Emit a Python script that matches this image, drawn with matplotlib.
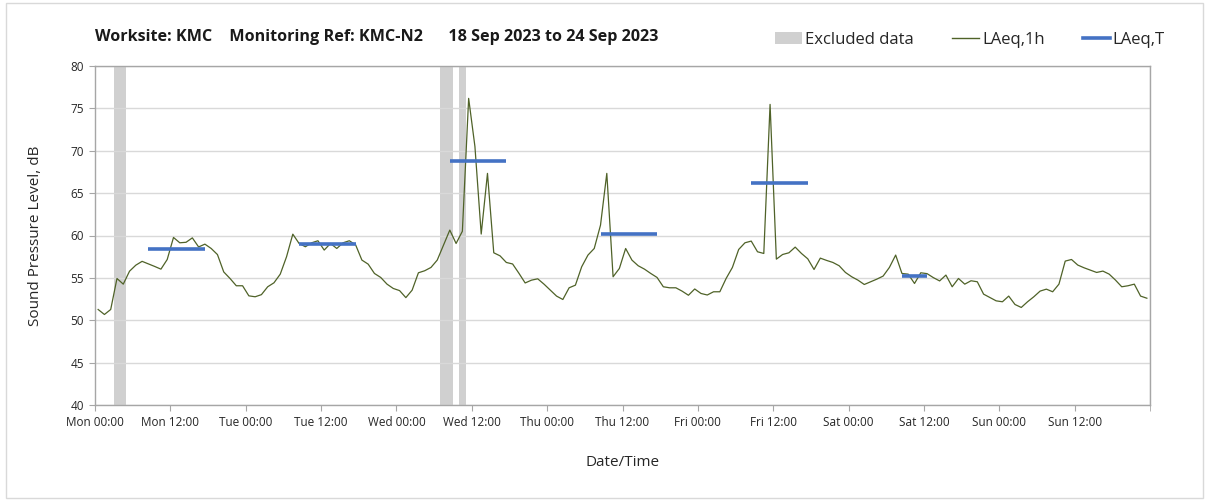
import numpy as np
import matplotlib
matplotlib.use("Agg")
import matplotlib.pyplot as plt
from matplotlib.patches import Patch, Rectangle
from matplotlib.lines import Line2D

plt.rcParams['font.family'] = ['Open Sans', 'DejaVu Sans']

# ---------------- data ----------------
title = "Worksite: KMC    Monitoring Ref: KMC-N2      18 Sep 2023 to 24 Sep 2023"
tick_labels = ["Mon 00:00", "Mon 12:00", "Tue 00:00", "Tue 12:00", "Wed 00:00",
               "Wed 12:00", "Thu 00:00", "Thu 12:00", "Fri 00:00", "Fri 12:00",
               "Sat 00:00", "Sat 12:00", "Sun 00:00", "Sun 12:00"]

# hourly LAeq,1h values (hour 0 = Mon 00:00)
laeq_1h = [
    51.27, 50.68, 51.27, 54.93, 54.26, 55.79, 56.50, 56.95, 56.65, 56.35,
    56.03, 57.17, 59.77, 59.14, 59.20, 59.72, 58.65, 58.98, 58.47, 57.75,
    55.70, 54.93, 54.07, 54.07, 52.88, 52.77, 53.02, 53.95, 54.42, 55.44,
    57.49, 60.16, 59.06, 58.67, 59.14, 59.38, 58.28, 59.06, 58.47, 59.14,
    59.38, 58.90, 57.10, 56.62, 55.52, 55.05, 54.26, 53.75, 53.50, 52.67,
    53.55, 55.60, 55.84, 56.23, 57.10, 58.87, 60.64, 59.06, 60.50, 76.18,
    70.50, 60.17, 67.33, 57.96, 57.60, 56.82, 56.64, 55.55, 54.40, 54.73,
    54.89, 54.26, 53.55, 52.85, 52.45, 53.83, 54.14, 56.31, 57.69, 58.47,
    61.23, 67.33, 55.13, 56.11, 58.47, 57.10, 56.43, 56.03, 55.52, 55.05,
    53.95, 53.83, 53.83, 53.43, 52.95, 53.69, 53.16, 52.98, 53.36, 53.36,
    54.93, 56.23, 58.35, 59.14, 59.34, 58.08, 57.88, 75.47, 57.21, 57.76,
    57.96, 58.63, 57.88, 57.25, 55.99, 57.33, 57.06, 56.82, 56.43, 55.64,
    55.13, 54.73, 54.22, 54.54, 54.85, 55.21, 56.23, 57.69, 55.52, 55.44,
    54.34, 55.60, 55.50, 55.03, 54.64, 55.33, 53.95, 54.93, 54.26, 54.66,
    54.54, 53.08, 52.69, 52.29, 52.18, 52.85, 51.86, 51.51, 52.18, 52.77,
    53.44, 53.67, 53.36, 54.26, 56.98, 57.17, 56.51, 56.19, 55.92, 55.64,
    55.80, 55.44, 54.74, 53.95, 54.07, 54.26, 52.85, 52.60,
]

# LAeq,T daytime periods (start hour, end hour, level)
laeqT_start = [8, 32, 56, 80, 104, 128]
laeqT_end = [17, 41, 65, 89, 113, 132]
laeqT_level = [58.4, 59.0, 68.8, 60.2, 66.2, 55.2]

# excluded data periods (start hour, end hour)
excl_start = [3, 55, 58]
excl_end = [5, 57, 59]

# ---------------- figure ----------------
W, H = 1208, 501
fig = plt.figure(figsize=(W / 100, H / 100), dpi=100)
ax = fig.add_axes([95 / W, 1 - 405 / H, (1150 - 95) / W, (405 - 66) / H])

hours = np.arange(len(laeq_1h)) + 0.5

for s, e in zip(excl_start, excl_end):
    ax.axvspan(s, e, color='#d0d0d0', lw=0, zorder=0.2)

ax.plot(hours, laeq_1h, color='#4F6228', lw=0.9, zorder=3)

for s, e, v in zip(laeqT_start, laeqT_end, laeqT_level):
    ax.plot([s + 0.5, e + 0.5], [v, v], color='#4472C4', lw=2.6,
            solid_capstyle='butt', zorder=4)

ax.set_xlim(0, 168)
ax.set_ylim(40, 80)
ax.set_yticks(np.arange(40, 81, 5))
ax.set_xticks(np.arange(0, 168, 12))
ax.set_xticklabels(tick_labels)
ax.set_xticks(np.arange(0, 169, 24), minor=True)

ax.set_axisbelow(True)
ax.grid(axis='y', which='major', color='#d9d9d9', lw=1.0, zorder=0.5)
ax.grid(axis='x', which='minor', color='#d9d9d9', lw=1.0, zorder=0.5)
ax.grid(axis='x', which='major', visible=False)

for sp in ax.spines.values():
    sp.set_color('#a6a6a6')
    sp.set_linewidth(1.0)

ax.tick_params(axis='both', which='major', direction='out', length=4,
               color='#a6a6a6', labelsize=8.5, labelcolor='#262626', pad=4)
ax.tick_params(axis='x', which='minor', length=4, color='#a6a6a6')

ax.set_ylabel("Sound Pressure Level, dB", fontsize=11, color='#262626', labelpad=20)
ax.set_xlabel("Date/Time", fontsize=11, color='#262626', labelpad=19)

fig.text(95 / W, 1 - 37 / H, title, fontsize=11.6, fontweight='bold',
         color='#1a1a1a', ha='left', va='center')

handles = [Patch(facecolor='#d0d0d0', edgecolor='none'),
           Line2D([], [], color='#4F6228', lw=1.0),
           Line2D([], [], color='#4472C4', lw=2.6)]
labels = ["Excluded data", "LAeq,1h", "LAeq,T"]
leg = fig.legend(handles, labels, loc='center right',
                 bbox_to_anchor=(1180 / W, 1 - 40 / H), ncol=3, frameon=False,
                 fontsize=12, handlelength=1.6, handletextpad=0.2,
                 columnspacing=2.3, labelcolor='#262626')

fig.patches.append(Rectangle((6 / W, 3 / H), 1197 / W, 495 / H,
                             transform=fig.transFigure, fill=False,
                             edgecolor='#d9d9d9', lw=1.0))

fig.savefig("out.png", dpi=100, facecolor='white')
